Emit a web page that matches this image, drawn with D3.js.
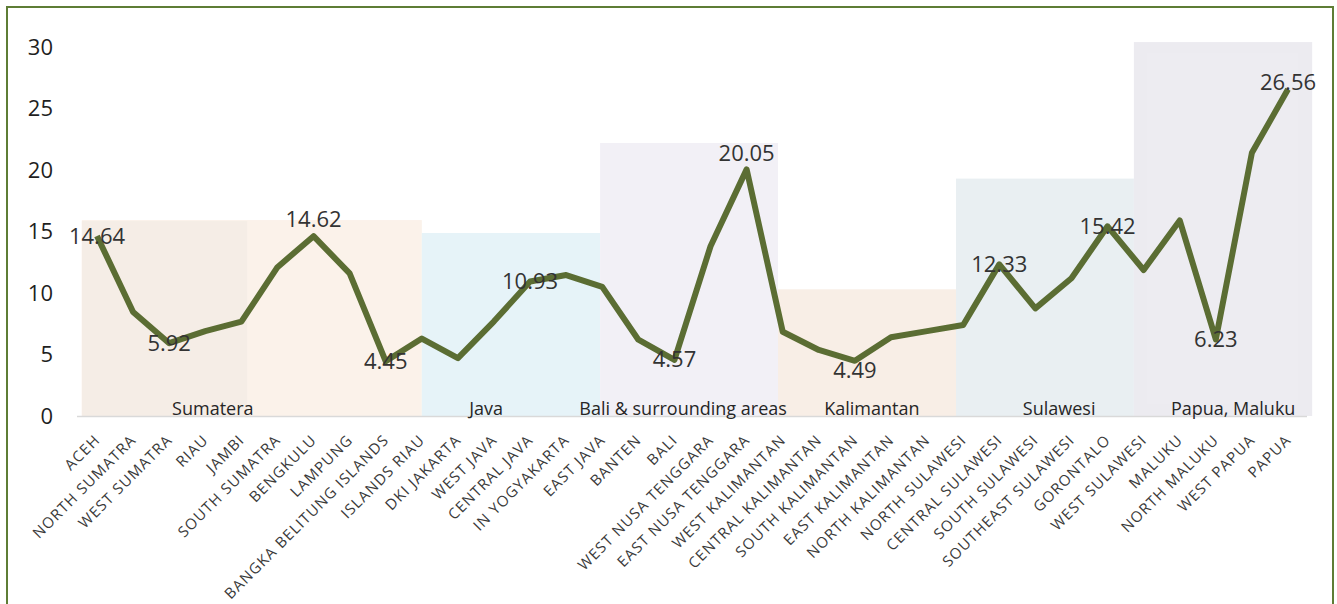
<!DOCTYPE html>
<html>
<head>
<meta charset="utf-8">
<script src="https://cdn.jsdelivr.net/npm/d3@7/dist/d3.min.js"></script>
<style>
  html, body { margin: 0; padding: 0; background: #ffffff; }
  svg { display: block; }
</style>
</head>
<body>
<svg id="chart" width="1337" height="604"></svg>
<script>
// ---------------- DATA ----------------
const provinces = [
  "ACEH", "NORTH SUMATRA", "WEST SUMATRA", "RIAU", "JAMBI", "SOUTH SUMATRA",
  "BENGKULU", "LAMPUNG", "BANGKA BELITUNG ISLANDS", "ISLANDS RIAU",
  "DKI JAKARTA", "WEST JAVA", "CENTRAL JAVA", "IN YOGYAKARTA", "EAST JAVA",
  "BANTEN", "BALI", "WEST NUSA TENGGARA", "EAST NUSA TENGGARA",
  "WEST KALIMANTAN", "CENTRAL KALIMANTAN", "SOUTH KALIMANTAN",
  "EAST KALIMANTAN", "NORTH KALIMANTAN", "NORTH SULAWESI",
  "CENTRAL SULAWESI", "SOUTH SULAWESI", "SOUTHEAST SULAWESI", "GORONTALO",
  "WEST SULAWESI", "MALUKU", "NORTH MALUKU", "WEST PAPUA", "PAPUA"
];
const povertyRate = [
  14.64, 8.46, 5.92, 6.9, 7.67, 12.1, 14.62, 11.6, 4.45, 6.3,
  4.7, 7.7, 10.93, 11.46, 10.5, 6.2, 4.57, 13.8, 20.05,
  6.85, 5.37, 4.49, 6.4, 6.9, 7.4, 12.33, 8.75, 11.2, 15.42,
  11.87, 15.9, 6.23, 21.4, 26.56
];
// provinces whose value is printed on the chart
const labelledProvinces = [
  "ACEH", "WEST SUMATRA", "BENGKULU", "BANGKA BELITUNG ISLANDS",
  "CENTRAL JAVA", "BALI", "EAST NUSA TENGGARA", "SOUTH KALIMANTAN",
  "CENTRAL SULAWESI", "GORONTALO", "NORTH MALUKU", "PAPUA"
];
// island groups: start/end expressed in category-index units, height in value units
const regionNames  = ["Sumatera", "Java", "Bali & surrounding areas", "Kalimantan", "Sulawesi", "Papua, Maluku"];
const regionStart  = [-0.42, 9.0, 13.94, 18.87, 23.8, 28.73];
const regionEnd    = [9.0, 13.94, 18.87, 23.8, 28.73, 33.67];
const regionTop    = [15.93, 14.88, 22.2, 10.3, 19.3, 30.4];
const regionLabelAt = [3.21, 10.78, 16.24, 21.47, 26.66, 31.48];
const yTicks = [0, 5, 10, 15, 20, 25, 30];

// ---------------- STYLE ----------------
const regionFill = ["#fbf2ea", "#e6f3f8", "#f2f0f6", "#f8eee6", "#e9eff2", "#ecebf0"];
const lineColor = "#5b6d33";
const labelPlacement = { // vertical shift of value labels (px)
  "BENGKULU": -17, "EAST NUSA TENGGARA": -16, "PAPUA": -7, "SOUTH KALIMANTAN": 10
};
const FONT = "'Open Sans', sans-serif";

// ---------------- LAYOUT ----------------
const svg = d3.select("#chart");
const x = d3.scalePoint().domain(provinces).range([97, 1288]);
const xi = d3.scaleLinear().domain([0, provinces.length - 1]).range([97, 1288]);
const y = d3.scaleLinear().domain([0, 30]).range([416, 47]);

// outer frame
svg.append("rect")
  .attr("x", 7).attr("y", 7).attr("width", 1326).attr("height", 640)
  .attr("fill", "#ffffff").attr("stroke", "#5e7d35").attr("stroke-width", 2);

// region boxes
const regions = regionNames.map((n, i) => ({
  name: n, s: regionStart[i], e: regionEnd[i], top: regionTop[i], lab: regionLabelAt[i], fill: regionFill[i]
}));
svg.append("g").selectAll("rect").data(regions).join("rect")
  .attr("x", d => xi(d.s))
  .attr("y", d => y(d.top))
  .attr("width", d => xi(d.e) - xi(d.s))
  .attr("height", d => y(0) - y(d.top))
  .attr("fill", d => d.fill);
// slightly darker left half of Sumatera box
svg.append("rect")
  .attr("x", xi(regionStart[0])).attr("y", y(regionTop[0]) + 1)
  .attr("width", xi(4.16) - xi(regionStart[0]))
  .attr("height", y(0) - y(regionTop[0]) - 1)
  .attr("fill", "#f5ede6");
// inner panel in Papua box
svg.append("rect")
  .attr("x", xi(regionStart[5]) + 13).attr("y", y(regionTop[5]) + 11)
  .attr("width", xi(regionEnd[5]) - xi(regionStart[5]) - 27)
  .attr("height", y(0) - y(regionTop[5]) - 23)
  .attr("fill", "#edecf1");

// baseline
svg.append("line")
  .attr("x1", 77).attr("x2", 1307).attr("y1", y(0) + 0.5).attr("y2", y(0) + 0.5)
  .attr("stroke", "#d9d9d9").attr("stroke-width", 1.5);

// y axis
const yAxis = d3.axisLeft(y).tickValues(yTicks).tickSize(0).tickPadding(0);
const gy = svg.append("g").attr("transform", "translate(53,0)").call(yAxis);
gy.select(".domain").remove();
gy.selectAll("text")
  .attr("font-family", FONT)
  .attr("font-size", 22).attr("fill", "#1f1f1f");

// x axis labels (rotated)
const xAxis = d3.axisBottom(x).tickSize(0).tickPadding(0);
const gx = svg.append("g").call(xAxis);
gx.select(".domain").remove();
gx.selectAll(".tick").attr("transform", d => `translate(${x(d) + 4},441)`);
gx.selectAll(".tick text")
  .attr("transform", "rotate(-45)")
  .attr("text-anchor", "end")
  .attr("x", 0).attr("y", 0).attr("dy", 0)
  .attr("font-family", FONT)
  .attr("font-size", 15)
  .attr("letter-spacing", 1.1)
  .attr("fill", "#3a3a3a");

// region labels
svg.append("g").selectAll("text").data(regions).join("text")
  .attr("x", d => xi(d.lab))
  .attr("y", 415)
  .attr("text-anchor", "middle")
  .attr("font-family", FONT)
  .attr("font-size", 18)
  .attr("fill", "#262626")
  .text(d => d.name);

// line
const pts = provinces.map((p, i) => ({ p, v: povertyRate[i] }));
svg.append("path")
  .datum(pts)
  .attr("fill", "none")
  .attr("stroke", lineColor)
  .attr("stroke-width", 6)
  .attr("stroke-linejoin", "round")
  .attr("d", d3.line().x(d => x(d.p)).y(d => y(d.v)));

// value labels
svg.append("g").selectAll("text")
  .data(pts.filter(d => labelledProvinces.includes(d.p)))
  .join("text")
  .attr("x", d => x(d.p))
  .attr("y", d => y(d.v) + (labelPlacement[d.p] || 0))
  .attr("dy", "0.35em")
  .attr("text-anchor", "middle")
  .attr("font-family", FONT)
  .attr("font-size", 22)
  .attr("fill", "#333333")
  .text(d => d.v.toFixed(2));
</script>
</body>
</html>
